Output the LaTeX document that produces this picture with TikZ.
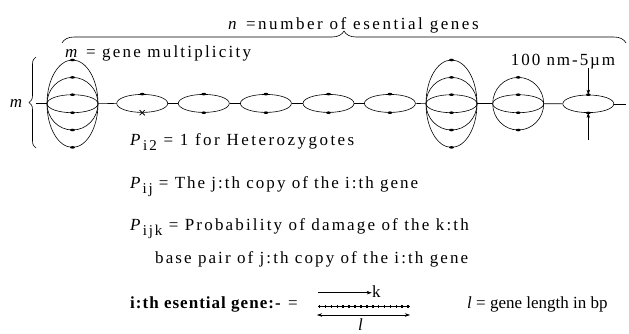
\documentclass[tikz,border=0pt]{standalone}
\usepackage{fontspec}
\setmainfont{Liberation Serif}
\usetikzlibrary{shapes.geometric,decorations.pathreplacing,arrows.meta}
\newcommand{\lsp}[2]{{\addfontfeature{LetterSpace=#1}#2}}
\newcommand{\sbs}[1]{\raisebox{-5pt}{\fontsize{15}{15}\selectfont #1}}
\begin{document}
\begin{tikzpicture}[x=1pt,y=-1pt,
  gene/.style={draw,ellipse,inner sep=0pt,minimum width=51pt,line width=0.6pt},
  inner/.style={line width=0.6pt},
  lbl/.style={inner sep=0pt,anchor=base west,font=\fontsize{17}{20}\selectfont},
  link/.style={line width=0.6pt},
  gdot/.style={fill=black},
  brc/.style={decorate,line width=0.6pt},
  tip/.style={-{Stealth[length=5pt,width=3.5pt]},line width=0.5pt}]
\useasboundingbox (0,0) rectangle (629,333);

% ---- genes ----
\node[gene,minimum height=87.4pt] (g1) at (72.5,103.7) {};
\node[gene,minimum height=18pt] (g2) at (142.2,103.4) {};
\node[gene,minimum height=18pt] (g3) at (203.8,103.4) {};
\node[gene,minimum height=18pt] (g4) at (265.9,103.4) {};
\node[gene,minimum height=18pt] (g5) at (328.5,103.4) {};
\node[gene,minimum height=18pt] (g6) at (389.9,103.4) {};
\node[gene,minimum height=87.4pt] (g7) at (451.5,103.7) {};
\node[gene,minimum height=52.6pt] (g8) at (518.2,103.7) {};
\node[gene,minimum height=17.6pt] (g9) at (588.3,103.8) {};

% inner ellipses
\foreach \g in {g1,g7}{
  \draw[inner] (\g.center) ellipse [x radius=25.5pt, y radius=26.3pt];
  \draw[inner] (\g.center) ellipse [x radius=25.5pt, y radius=9pt];
  \foreach \h in {-43.7,-26.3,-9,9,26.3,43.7}
    \fill[gdot] ([yshift=\h pt]\g.center) ellipse [x radius=2.4pt, y radius=1.3pt];
}
\draw[inner] (g8.center) ellipse [x radius=25.5pt, y radius=9pt];
\foreach \h in {-26.3,-9,9,26.3}
  \fill[gdot] ([yshift=\h pt]g8.center) ellipse [x radius=2.4pt, y radius=1.3pt];
\foreach \g in {g3,g4,g5,g6,g9}{
  \fill[gdot] (\g.north) ellipse [x radius=2.4pt, y radius=1.3pt];
  \fill[gdot] (\g.south) ellipse [x radius=2.4pt, y radius=1.3pt];
}
\fill[gdot] (g2.north) ellipse [x radius=2.4pt, y radius=1.3pt];
\draw[line width=0.8pt] ([shift={(-2.6pt,-2.6pt)}]g2.south) -- ([shift={(2.6pt,2.6pt)}]g2.south)
  ([shift={(-2.6pt,2.6pt)}]g2.south) -- ([shift={(2.6pt,-2.6pt)}]g2.south);

% chain
\coordinate (sL) at (36,103.7);
\coordinate (sR) at (626,103.8);
\draw[link] (sL) -- (g1.west);
\draw[link] (g1.east) -- (g2.west);
\draw[link] (g2.east) -- (g3.west);
\draw[line width=1.1pt] (g3.east) -- (g4.west);
\draw[link] (g4.east) -- (g5.west);
\draw[link] (g5.east) -- (g6.west);
\draw[link] (g6.east) -- (g7.west);
\draw[link] (g7.east) -- (g8.west);
\draw[link] (g8.east) -- (g9.west);
\draw[link] (g9.east) -- (sR);

% size arrows
\coordinate (a1) at (588.3,68);
\coordinate (a2) at (588.3,140);
\draw[tip] (a1) -- (g9.north);
\draw[tip] (a2) -- (g9.south);
\node[lbl] (size) at (510.7,65) {\lsp{11.5}{100 nm-5\textmu m}};

% braces
\coordinate (bl) at (62,43);
\coordinate (br) at (626,43);
\draw[brc,decoration={brace,amplitude=12pt}] (bl) -- (br);
\node[lbl] (ntext) at (228,29) {\lsp{15}{\textit{n} =number of esential genes}};
\node[lbl] (mtext) at (65,57) {\lsp{13}{\textit{m} = gene multiplicity}};

\coordinate (lb1) at (36,148);
\coordinate (lb2) at (36,57);
\draw[brc,decoration={brace,amplitude=7pt}] (lb1) -- (lb2);
\node[inner sep=0pt,font=\fontsize{17}{20}\selectfont] (mside) at (16,103) {\textit{m}};

% text lines
\node[lbl] (p1) at (130,145) {\lsp{14.5}{\textit{P}\sbs{i2} = 1 for Heterozygotes}};
\node[lbl] (p2) at (130,188) {\lsp{11.8}{\textit{P}\sbs{ij} = The j:th copy of the i:th gene}};
\node[lbl] (p3) at (130,230) {\lsp{12.8}{\textit{P}\sbs{ijk} = Probability of damage of the k:th}};
\node[lbl] (p4) at (155,263) {\lsp{12.3}{base pair of j:th copy of the i:th gene}};

% bottom equation
\node[lbl] (eq) at (130,308) {{\bfseries\addfontfeature{LetterSpace=6}i:th esential gene:-}};
\node[lbl] (eqs) at (288,308) {=};
\coordinate (gl) at (318,306.8);
\coordinate (gr) at (410,306.8);
\draw[line width=0.8pt] (gl) -- (gr);
\foreach \i in {0,...,15}
  \fill ([xshift=\i*5.9pt+0.8pt]gl) ++(0,-1.6) rectangle ++(1.6,3.2);
\coordinate (k1) at (318.3,292.7);
\coordinate (k2) at (371.7,292.7);
\draw[tip] (k1) -- (k2);
\node[lbl] (k) at (372,297) {k};
\coordinate (l1) at (317,315);
\coordinate (l2) at (410,315);
\draw[tip,{Stealth[length=5pt,width=3.5pt]}-{Stealth[length=5pt,width=3.5pt]}] (l1) -- (l2);
\node[lbl] (lsym) at (358,330) {\textit{l}};
\node[lbl] (llen) at (467,308) {\textit{l} = gene length in bp};
\end{tikzpicture}
\end{document}
